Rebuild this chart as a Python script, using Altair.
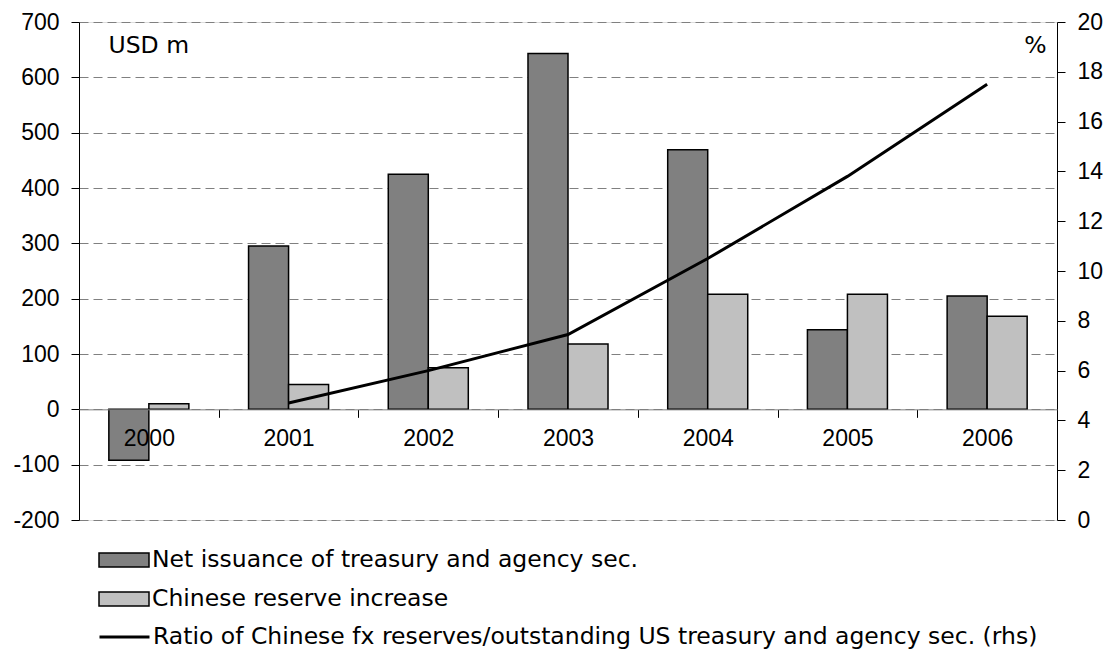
import altair as alt
import pandas as pd

# ---- data ----
years = ["2000", "2001", "2002", "2003", "2004", "2005", "2006"]
series_names = ["Net issuance of treasury and agency sec.", "Chinese reserve increase"]
net_issuance = [-92, 295, 425, 643, 469, 144, 205]
reserve_increase = [10, 45, 75, 118, 208, 208, 168]

ratio_years = ["2001", "2002", "2003", "2004", "2005", "2006"]
ratio_values = [4.7, 6.0, 7.45, 10.5, 13.8, 17.5]
ratio_label = "Ratio of Chinese fx reserves/outstanding US treasury and agency sec. (rhs)"

left_ticks = list(range(-200, 701, 100))
right_ticks = list(range(0, 21, 2))
left_domain = [-200, 700]
right_domain = [0, 20]

# ---- tables ----
rows = []
for i, y in enumerate(years):
    rows.append({"year": y, "series": series_names[0], "value": net_issuance[i]})
    rows.append({"year": y, "series": series_names[1], "value": reserve_increase[i]})
df_bars = pd.DataFrame(rows)
df_line = pd.DataFrame({"year": ratio_years, "ratio": ratio_values, "label": ratio_label})

FONT = "Liberation Sans"
FS = 23
LFONT = "DejaVu Sans"
LFS = 23.5
PW, PH = 978, 498
x_axis_offset = -PH * (0 - left_domain[0]) / (left_domain[1] - left_domain[0])

bars = alt.Chart(df_bars).mark_bar(stroke="black", strokeWidth=1.5).encode(
    x=alt.X(
        "year:N",
        sort=years,
        scale=alt.Scale(domain=years, paddingInner=0, paddingOuter=0),
        axis=alt.Axis(
            title=None, labelAngle=0, labelFontSize=FS, labelFont=FONT, labelColor="black",
            labelPadding=10, tickBand="extent", tickSize=8, tickColor="black",
            domainColor="#808080", domainWidth=1, offset=x_axis_offset, zindex=1, grid=False,
        ),
    ),
    xOffset=alt.XOffset(
        "series:N", sort=series_names,
        scale=alt.Scale(domain=series_names, paddingInner=0, paddingOuter=0.746),
    ),
    y=alt.Y(
        "value:Q",
        scale=alt.Scale(domain=left_domain, nice=False, zero=False),
        axis=alt.Axis(
            values=left_ticks, labelExpr="'' + datum.value",
            title="USD m", titleAngle=0, titleX=29, titleY=23,
            titleAlign="left", titleBaseline="middle", titleFontSize=LFS,
            titleFontWeight="normal", titleFont=LFONT, titleColor="black",
            labelFontSize=FS, labelFont=FONT, labelColor="black", labelPadding=12,
            tickSize=8, tickColor="black", domainColor="black",
            grid=True, gridDash=[9, 5], gridColor="#808080", gridWidth=1,
        ),
    ),
    fill=alt.Fill(
        "series:N",
        scale=alt.Scale(domain=series_names, range=["#808080", "#C0C0C0"]),
        legend=alt.Legend(
            title=None, orient="none", legendX=19, legendY=528, direction="vertical",
            labelFontSize=LFS, labelFont=LFONT, labelColor="black", labelLimit=1000,
            symbolType="M-1,-0.28H1V0.28H-1Z", symbolSize=2500,
            symbolStrokeColor="black", symbolStrokeWidth=1.5, symbolOpacity=1,
            clipHeight=20, rowPadding=15, labelOffset=2, padding=0,
        ),
    ),
)

line = alt.Chart(df_line).mark_line(strokeWidth=3).encode(
    x=alt.X("year:N", sort=years, bandPosition=0.5),
    y=alt.Y(
        "ratio:Q",
        scale=alt.Scale(domain=right_domain, nice=False),
        axis=alt.Axis(
            orient="right", values=right_ticks,
            title="%", titleAngle=0, titleX=-22, titleY=23,
            titleAlign="center", titleBaseline="middle", titleFontSize=LFS,
            titleFontWeight="normal", titleFont=LFONT, titleColor="black",
            labelFontSize=FS, labelFont=FONT, labelColor="black", labelPadding=12,
            tickSize=8, tickColor="black", domainColor="black", grid=False,
        ),
    ),
    stroke=alt.Stroke(
        "label:N",
        scale=alt.Scale(domain=[ratio_label], range=["black"]),
        legend=alt.Legend(
            title=None, orient="none", legendX=19, legendY=605,
            labelFontSize=LFS, labelFont=LFONT, labelColor="black", labelLimit=1000,
            symbolType="stroke", symbolSize=2500, symbolStrokeWidth=3,
            clipHeight=20, labelOffset=2, padding=0,
        ),
    ),
)

chart = alt.layer(bars, line).resolve_scale(y="independent").properties(
    width=PW, height=PH,
    padding={"left": 79, "top": 22, "right": 56, "bottom": 130},
    autosize=alt.AutoSizeParams(type="none"),
).configure_view(stroke=None).configure(font=FONT, background="white")

chart.save("out.html", embed_options={"renderer": "svg", "actions": False})
